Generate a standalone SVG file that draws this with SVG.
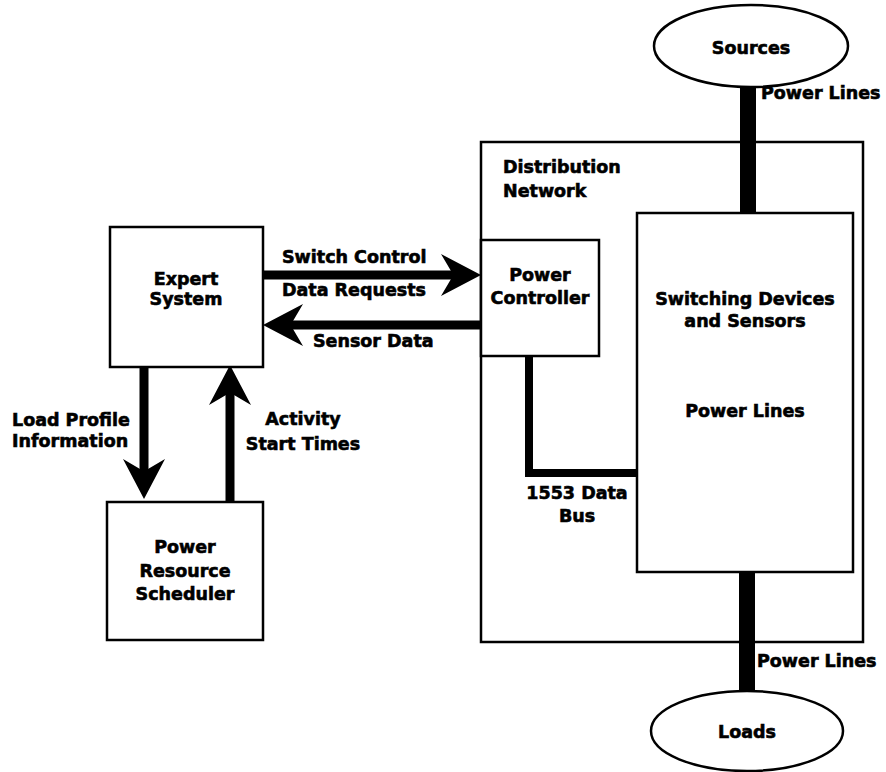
<svg xmlns="http://www.w3.org/2000/svg" xmlns:xlink="http://www.w3.org/1999/xlink" width="886" height="772" viewBox="0 0 886 772">
<style>
.box{fill:#fff;stroke:#000;stroke-width:2.5}
.t{font-family:"DejaVu Sans","Liberation Sans",Arial,sans-serif;font-weight:bold;font-size:17.5px;fill:#000;stroke:#000;stroke-width:0.6}
.c{text-anchor:middle}
.ln{stroke:#000;fill:none}
</style>
<defs>
<path id="ah" d="M0,0 L-40,-21 L-30,-4 L-30,4 L-40,21 Z" fill="#000"/>
</defs>
<rect width="886" height="772" fill="#fff"/>
<g id="distribution-network">
<rect class="box" x="481" y="142" width="382" height="500"/>
<text class="t" x="503" y="173">Distribution</text>
<text class="t" x="503" y="197">Network</text>
</g>
<g id="connectors">
<line class="ln" x1="748" y1="86" x2="748" y2="214" stroke-width="16"/>
<line class="ln" x1="747" y1="571" x2="747" y2="694" stroke-width="16"/>
<polyline class="ln" points="529,356 529,473 637,473" stroke-width="8"/>
<line class="ln" x1="263" y1="275" x2="452" y2="275" stroke-width="9"/>
<use xlink:href="#ah" transform="translate(481,275)"/>
<line class="ln" x1="481" y1="325" x2="292" y2="325" stroke-width="9"/>
<use xlink:href="#ah" transform="translate(263,325) rotate(180)"/>
<line class="ln" x1="144" y1="366" x2="144" y2="470" stroke-width="9"/>
<use xlink:href="#ah" transform="translate(144,499) rotate(90)"/>
<line class="ln" x1="230" y1="502" x2="230" y2="394" stroke-width="9"/>
<use xlink:href="#ah" transform="translate(230,365) rotate(-90)"/>
<text class="t" x="282" y="263">Switch Control</text>
<text class="t" x="282" y="296">Data Requests</text>
<text class="t" x="313" y="347">Sensor Data</text>
<text class="t" x="12" y="426">Load Profile</text>
<text class="t" x="12" y="447">Information</text>
<text class="t c" x="303" y="425">Activity</text>
<text class="t c" x="303" y="450">Start Times</text>
<text class="t" x="761" y="99">Power Lines</text>
<text class="t" x="757" y="667">Power Lines</text>
<text class="t c" x="577" y="499">1553 Data</text>
<text class="t c" x="577" y="522">Bus</text>
</g>
<g id="sources">
<ellipse class="box" cx="751" cy="46" rx="97" ry="41"/>
<text class="t c" x="751" y="54">Sources</text>
</g>
<g id="loads">
<ellipse class="box" cx="747" cy="731" rx="96" ry="40"/>
<text class="t c" x="747" y="738">Loads</text>
</g>
<g id="expert-system">
<rect class="box" x="110" y="227" width="153" height="140"/>
<text class="t c" x="186" y="285">Expert</text>
<text class="t c" x="186" y="305">System</text>
</g>
<g id="power-controller">
<rect class="box" x="481" y="240" width="118" height="116"/>
<text class="t c" x="540" y="281">Power</text>
<text class="t c" x="540" y="304">Controller</text>
</g>
<g id="switching-devices">
<rect class="box" x="637" y="213" width="216" height="359"/>
<text class="t c" x="745" y="305">Switching Devices</text>
<text class="t c" x="745" y="327">and Sensors</text>
<text class="t c" x="745" y="417">Power Lines</text>
</g>
<g id="power-resource-scheduler">
<rect class="box" x="107" y="502" width="156" height="138"/>
<text class="t c" x="185" y="553">Power</text>
<text class="t c" x="185" y="577">Resource</text>
<text class="t c" x="185" y="600">Scheduler</text>
</g>
</svg>
